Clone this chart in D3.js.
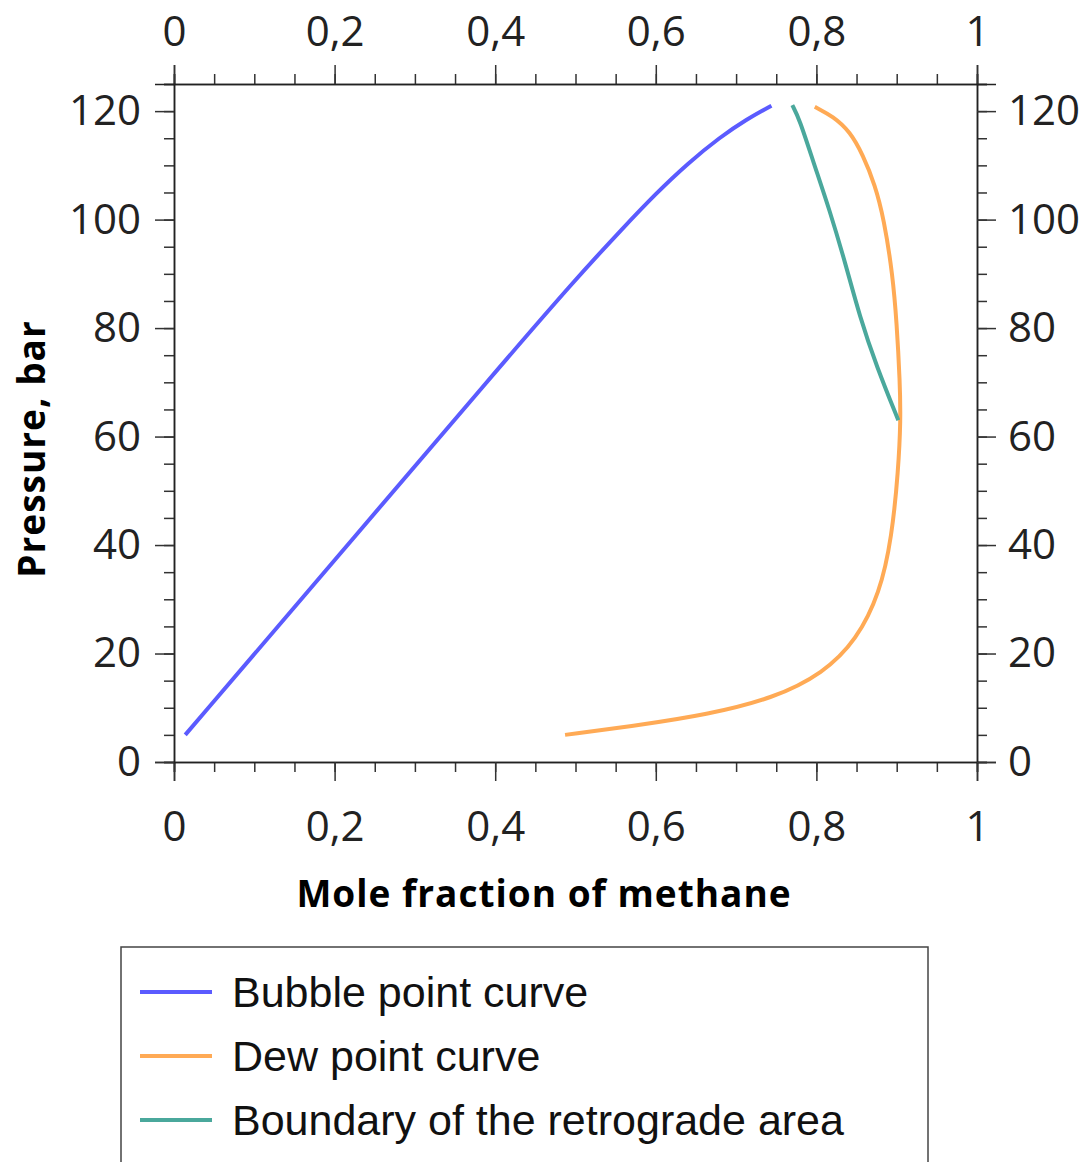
<!DOCTYPE html>
<html>
<head>
<meta charset="utf-8">
<script src="https://cdn.jsdelivr.net/npm/d3@7"></script>
<style>
  body { margin: 0; background: #fff; }
  svg { display: block; }
</style>
</head>
<body>
<svg id="chart" width="1088" height="1162"></svg>
<script>
// curves: [mole fraction, pressure in bar]
var bubbleCurve = [
  [0.014, 5], [0.2, 37.2], [0.4, 71.9], [0.5, 89], [0.56, 98.6], [0.6, 104.8],
  [0.64, 110.4], [0.68, 115.2], [0.713, 118.5], [0.744, 121.0]
];
var dewCurve = [
  [0.487, 5], [0.58, 6.8], [0.663, 8.7], [0.746, 11.7], [0.809, 16.4], [0.85, 22.5],
  [0.879, 31.1], [0.894, 41.5], [0.902, 53.8], [0.905, 63.0], [0.904, 70], [0.9, 81],
  [0.895, 89.8], [0.884, 100.2], [0.873, 106.4], [0.858, 111.9], [0.842, 116.2],
  [0.821, 119.0], [0.798, 120.8]
];
var retroCurve = [
  [0.902, 63.0], [0.875, 72.9], [0.854, 82.1], [0.836, 92.0], [0.817, 101.5],
  [0.796, 110.7], [0.779, 118.5], [0.77, 121.1]
];
var seriesNames = ['Bubble point curve', 'Dew point curve', 'Boundary of the retrograde area'];
var seriesColors = ['#5b5bff', '#ffaa55', '#4aa89c'];
var xMajorTicks = [0, 0.2, 0.4, 0.6, 0.8, 1];
var yMajorTicks = [0, 20, 40, 60, 80, 100, 120];

var svg = d3.select('#chart');
var plotLeft = 174, plotRight = 977, plotTop = 84, plotBottom = 762;

var x = d3.scaleLinear().domain([0, 1]).range([plotLeft, plotRight]);
var y = d3.scaleLinear().domain([0, 125]).range([plotBottom, plotTop]);

var xMinor = d3.range(0, 1.0001, 0.05);
var yMinor = d3.range(0, 125.001, 5);
var fmtX = d => String(d).replace('.', ',');

function drawAxis(axisFn, scale, pos, minor, major, fmt, offset) {
  var g = svg.append('g').attr('transform', pos);
  g.append('g').call(axisFn(scale).tickValues(minor).tickSize(10).tickFormat(''));
  g.append('g').call(axisFn(scale).tickValues(major).tickSize(19).tickPadding(offset).tickFormat(fmt));
  g.selectAll('path.domain').attr('stroke', '#222').attr('stroke-width', 1.5);
  g.selectAll('.tick line').attr('stroke', '#333').attr('stroke-width', 1.5);
  g.selectAll('.tick text')
    .attr('fill', '#222')
    .style('font-family', '"Open Sans", "Noto Sans", sans-serif')
    .style('font-size', '42px');
  return g;
}

drawAxis(d3.axisBottom, x, `translate(0,${plotBottom})`, xMinor, xMajorTicks, fmtX, 30);
drawAxis(d3.axisTop, x, `translate(0,${plotTop})`, xMinor, xMajorTicks, fmtX, 19);
drawAxis(d3.axisLeft, y, `translate(${plotLeft},0)`, yMinor, yMajorTicks, d3.format('d'), 14);
drawAxis(d3.axisRight, y, `translate(${plotRight},0)`, yMinor, yMajorTicks, d3.format('d'), 12);

// curves
var line = d3.line()
  .x(d => x(d[0]))
  .y(d => y(d[1]))
  .curve(d3.curveBasis);

[bubbleCurve, dewCurve, retroCurve].forEach(function(data, i) {
  svg.append('path')
    .datum(data)
    .attr('fill', 'none')
    .attr('stroke', seriesColors[i])
    .attr('stroke-width', 4)
    .attr('d', line);
});

// axis titles
svg.append('text')
  .attr('x', 544)
  .attr('y', 907)
  .attr('text-anchor', 'middle')
  .style('font-family', '"Open Sans", "Noto Sans", sans-serif')
  .style('font-weight', 'bold')
  .style('font-size', '37px')
  .style('letter-spacing', '1px')
  .attr('fill', '#000')
  .text('Mole fraction of methane');

svg.append('text')
  .attr('transform', 'translate(45,449) rotate(-90)')
  .attr('text-anchor', 'middle')
  .style('font-family', '"Open Sans", "Noto Sans", sans-serif')
  .style('font-weight', 'bold')
  .style('font-size', '37px')
  .style('letter-spacing', '1px')
  .attr('fill', '#000')
  .text('Pressure, bar');

// legend
var legend = svg.append('g');
legend.append('rect')
  .attr('x', 121).attr('y', 947)
  .attr('width', 807).attr('height', 260)
  .attr('fill', '#fff')
  .attr('stroke', '#444')
  .attr('stroke-width', 1.5);

var item = legend.selectAll('g.item')
  .data(seriesNames)
  .join('g')
    .attr('class', 'item')
    .attr('transform', (d, i) => `translate(0,${992 + i * 64})`);

item.append('line')
  .attr('x1', 140).attr('x2', 212)
  .attr('stroke', (d, i) => seriesColors[i])
  .attr('stroke-width', 4);

item.append('text')
  .attr('x', 232)
  .attr('dy', '0.36em')
  .attr('fill', '#111')
  .style('font-family', '"Liberation Sans", Arial, sans-serif')
  .style('font-size', '43px')
  .text(d => d);
</script>
</body>
</html>
